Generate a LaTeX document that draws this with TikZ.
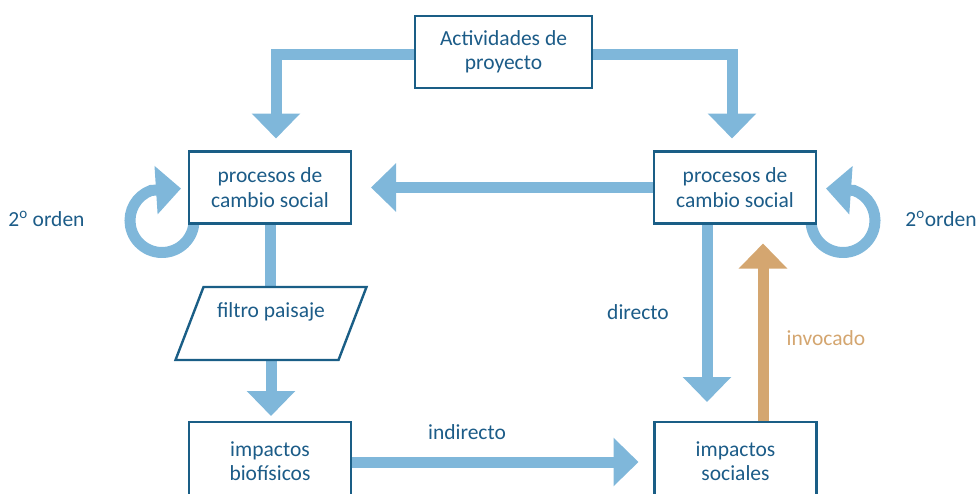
\documentclass[tikz,border=0pt]{standalone}
\usepackage{fontspec}
\setmainfont{Carlito}
\usetikzlibrary{arrows.meta,backgrounds}
\definecolor{boxc}{RGB}{26,94,134}
\definecolor{txtc}{RGB}{28,92,136}
\definecolor{arrc}{RGB}{127,183,218}
\definecolor{tanc}{RGB}{212,166,112}
\tikzset{
  boxline/.style={draw=boxc, line width=2.4pt},
  box/.style={boxline, fill=white, minimum width=162pt, minimum height=72pt, align=center, text=txtc, inner sep=0pt, outer sep=0pt, font=\fontsize{21.5}{24.5}\selectfont},
  lbl/.style={text=txtc, inner sep=0pt, font=\fontsize{21.5}{24.5}\selectfont},
  barrow/.style={draw=arrc, line width=11pt, -{Triangle[width=47pt,length=25pt]}},
  tarrow/.style={draw=tanc, line width=11pt, -{Triangle[width=47pt,length=25pt]}},
  bline/.style={draw=arrc, line width=11pt},
}
\begin{document}
\begin{tikzpicture}[x=1pt,y=-1pt]
\clip (0,0) rectangle (979,493);
\node[box, minimum width=177pt] (act) at (503.5,52) {Actividades de\\proyecto};
\node[box] (lp) at (270,187.5) {procesos de\\cambio social};
\node[box] (rp) at (735,187.5) {procesos de\\cambio social};
\node[minimum width=163pt, minimum height=73pt, inner sep=0pt, outer sep=0pt] (f) at (271,323.5) {};
\draw[boxline, fill=white] ([xshift=-14pt]f.south west) -- ([xshift=14pt]f.north west) -- ([xshift=14pt]f.north east) -- ([xshift=-14pt]f.south east) -- cycle;
\node[lbl] (ft) at (271,312) {filtro paisaje};
\node[box, minimum height=78pt] (bl) at (270,461) {impactos\\biofísicos};
\node[box, minimum height=78pt] (br) at (735.5,461) {impactos\\sociales};

\node[lbl] (ol) at (46.5,219) {2\textsuperscript{o} orden};
\node[lbl] (or) at (941,219) {2\textsuperscript{o}orden};
\node[lbl] (dir) at (638,312) {directo};
\node[lbl, text=tanc] (inv) at (826,338) {invocado};
\node[lbl] (ind) at (467,432) {indirecto};

\coordinate (lc) at ([shift={(-27,-3)}]lp.south west);
\coordinate (rc) at ([shift={(27,-3)}]rp.south east);

\begin{scope}[on background layer]
\draw[barrow] ([yshift=-2pt]act.west) -| ([shift={(6,-13)}]lp.north);
\draw[barrow] ([yshift=-2pt]act.east) -| ([shift={(-3,-13)}]rp.north);
\draw[barrow, shorten >=20pt] (rp.west) -- (lp.east);
\draw[bline] (lp.south) -- (lp.south |- f.north);
\draw[barrow, shorten >=6pt] (f.south) -- (f.south |- bl.north);
\draw[barrow, shorten >=16pt] ([yshift=-1pt]bl.east) -- ([yshift=-1pt]br.west);
\draw[barrow, shorten >=20pt] ([xshift=-28pt]rp.south) -- ([xshift=-28pt]rp.south |- br.north);
\draw[tarrow, shorten >=20pt] ([xshift=27.5pt]br.north) -- ([xshift=27.5pt]br.north |- rp.south);
\draw[barrow] ([shift={(-10:32)}]lc) arc (-10:250:32) -- ([shift={(19,-32)}]lc);
\draw[barrow] ([shift={(190:32)}]rc) arc (190:-70:32) -- ([shift={(-17,-32)}]rc);
\end{scope}
\end{tikzpicture}
\end{document}
